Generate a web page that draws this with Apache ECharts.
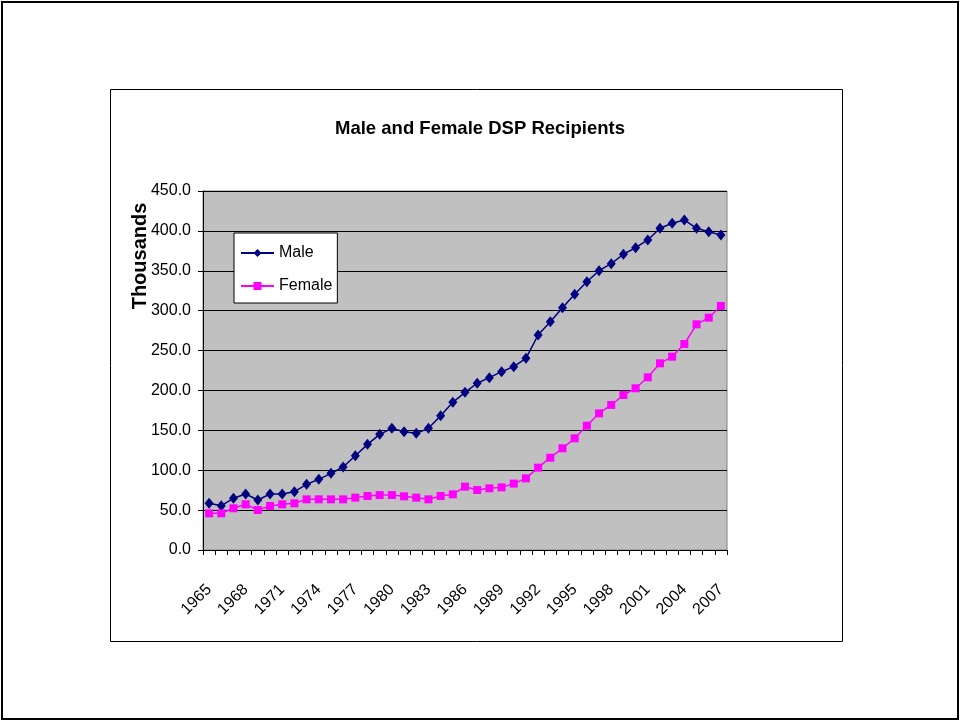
<!DOCTYPE html>
<html>
<head>
<meta charset="utf-8">
<script src="https://cdn.jsdelivr.net/npm/echarts@6/dist/echarts.min.js"></script>
<style>
html,body{margin:0;padding:0;background:#fff;}
#chart{width:960px;height:722px;}
</style>
</head>
<body>
<div id="chart"></div>
<script>
const years = [];
for (let y = 1965; y <= 2007; y++) years.push(String(y));

const maleValues = [58.5, 55.6, 64.8, 70.2, 62.7, 70.2, 70.2, 73.1, 82.3, 88.6,
  96.1, 104.0, 118.2, 132.4, 145.0, 152.5, 148.3, 146.2, 152.5, 168.4,
  185.1, 197.6, 209.0, 216.0, 223.5, 229.8, 240.3, 269.5, 286.2, 303.8,
  320.5, 336.3, 350.1, 358.9, 370.7, 379.0, 388.6, 403.3, 409.5, 413.7,
  403.3, 399.0, 394.9];

const femaleValues = [46.0, 46.0, 52.3, 57.3, 50.1, 55.2, 57.3, 58.5, 63.5, 63.5,
  63.5, 63.5, 65.6, 67.7, 68.9, 68.9, 67.3, 65.6, 63.5, 67.7,
  69.8, 79.4, 75.2, 77.3, 78.5, 83.2, 89.8, 103.2, 115.7, 127.5,
  140.0, 155.8, 171.3, 181.8, 194.3, 202.7, 216.5, 234.0, 242.3, 258.2,
  282.9, 291.2, 305.9];

const seriesNames = ['Male', 'Female'];
const titleText = 'Male and Female DSP Recipients';
const yAxisTitle = 'Thousands';

const FONT = "'Liberation Sans', Arial, sans-serif";

const chart = echarts.init(document.getElementById('chart'), null, {renderer: 'canvas'});
chart.setOption({
  backgroundColor: '#ffffff',
  animation: false,
  title: {
    text: titleText,
    left: 475, top: 114,
    textAlign: 'center',
    textStyle: {fontFamily: FONT, fontWeight: 'bold', fontSize: 18.5, color: '#000'}
  },
  graphic: [
    {type: 'rect', shape: {x: 2, y: 2, width: 956, height: 717}, style: {fill: 'none', stroke: '#000', lineWidth: 2}, z: 0},
    {type: 'rect', shape: {x: 110.5, y: 89.5, width: 732, height: 552}, style: {fill: 'none', stroke: '#000', lineWidth: 1}, z: 0},
    {type: 'text', x: 140, y: 256, rotation: Math.PI / 2,
      style: {text: yAxisTitle, font: "bold 20px " + FONT, fill: '#000', textAlign: 'center', textVerticalAlign: 'middle'}, z: 10}
  ],
  legend: {
    orient: 'vertical',
    left: 234, top: 233,
    backgroundColor: '#ffffff',
    borderColor: '#000',
    borderWidth: 1,
    padding: [12, 5, 9, 6],
    itemGap: 17,
    itemWidth: 33,
    itemHeight: 10,
    textStyle: {fontFamily: FONT, fontSize: 16, color: '#000'},
    data: seriesNames
  },
  grid: {
    left: 203, top: 191, width: 524, height: 359,
    show: true, backgroundColor: '#C0C0C0', borderColor: '#808080', borderWidth: 1
  },
  xAxis: {
    type: 'category',
    data: years,
    boundaryGap: true,
    axisLine: {lineStyle: {color: '#000', width: 1}},
    axisTick: {show: true, interval: 0, length: 5, inside: false, lineStyle: {color: '#000'}},
    axisLabel: {interval: 2, rotate: 45, margin: 37, fontFamily: FONT, fontSize: 16, color: '#000'},
    splitLine: {show: false}
  },
  yAxis: {
    type: 'value',
    min: 0, max: 450, interval: 50,
    axisLine: {show: true, lineStyle: {color: '#000', width: 1}},
    axisTick: {show: true, length: 5, lineStyle: {color: '#000'}},
    axisLabel: {margin: 12, fontFamily: FONT, fontSize: 16, color: '#000', formatter: v => v.toFixed(1)},
    splitLine: {show: true, lineStyle: {color: '#000', width: 1}}
  },
  series: [
    {
      name: seriesNames[0], type: 'line', data: maleValues,
      showAllSymbol: true,
      symbol: 'diamond', symbolSize: [9, 11],
      lineStyle: {color: '#000080', width: 1.5},
      itemStyle: {color: '#000080'}
    },
    {
      name: seriesNames[1], type: 'line', data: femaleValues,
      showAllSymbol: true,
      symbol: 'rect', symbolSize: 8,
      lineStyle: {color: '#FF00FF', width: 1.5},
      itemStyle: {color: '#FF00FF'}
    }
  ]
});
</script>
</body>
</html>
